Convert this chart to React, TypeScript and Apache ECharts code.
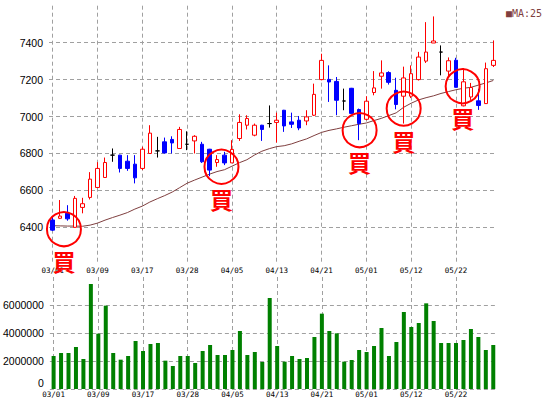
import React, { useEffect, useRef } from 'react';
import * as echarts from 'echarts';

const dates = [
  '03/01', '03/02', '03/03', '03/06', '03/07', '03/08',
  '03/09', '03/10', '03/13', '03/14', '03/15', '03/16',
  '03/17', '03/20', '03/22', '03/23', '03/24', '03/27',
  '03/28', '03/29', '03/30', '03/31', '04/03', '04/04',
  '04/05', '04/06', '04/07', '04/10', '04/11', '04/12',
  '04/13', '04/14', '04/17', '04/18', '04/19', '04/20',
  '04/21', '04/24', '04/25', '04/26', '04/27', '04/28',
  '05/01', '05/02', '05/08', '05/09', '05/10', '05/11',
  '05/12', '05/15', '05/16', '05/17', '05/18', '05/19',
  '05/22', '05/23', '05/24', '05/25', '05/26', '05/29',
];

const opens = [
  6440, 6449, 6476, 6400, 6508, 6562, 6616, 6670, 6791, 6791,
  6758, 6742, 6719, 6800, 6814, 6863, 6876, 6827, 6850, 6868,
  6850, 6823, 6751, 6791, 6749, 6881, 6953, 6899, 6953, 6962,
  6968, 7034, 6971, 6980, 6976, 7007, 7200, 7201, 7190, 7084,
  7153, 7038, 6985, 7130, 7218, 7238, 7142, 7110, 7110, 7200,
  7300, 7398, 7349, 7246, 7305, 7058, 7106, 7085, 7070, 7277,
];
const closes = [
  6385, 6461, 6446, 6557, 6528, 6661, 6719, 6751, 6791, 6719,
  6719, 6668, 6823, 6910, 6814, 6803, 6857, 6930, 6850, 6893,
  6755, 6710, 6767, 6749, 6822, 6968, 6989, 6953, 6930, 6962,
  6980, 6949, 6958, 6938, 6998, 7120, 7304, 7187, 7088, 7084,
  7017, 6962, 7083, 7155, 7236, 7185, 7065, 7209, 7232, 7322,
  7349, 7409, 7349, 7302, 7158, 7188, 7157, 7060, 7259, 7304,
];
const lows = [
  6380, 6445, 6436, 6398, 6476, 6551, 6616, 6670, 6755, 6697,
  6706, 6638, 6710, 6800, 6778, 6800, 6800, 6827, 6818, 6800,
  6749, 6677, 6728, 6737, 6749, 6868, 6930, 6893, 6868, 6940,
  6859, 6917, 6938, 6926, 6953, 7003, 7196, 7079, 7007, 7034,
  7017, 6872, 6980, 7115, 7151, 7173, 7039, 6962, 7100, 7195,
  7290, 7398, 7223, 7218, 7158, 7055, 7090, 7036, 7068, 7268,
];
const highs = [
  6455, 6548, 6520, 6570, 6560, 6699, 6753, 6778, 6827, 6793,
  6791, 6791, 6836, 6953, 6890, 6886, 6893, 6944, 6920, 6899,
  6863, 6825, 6791, 6809, 6872, 7012, 7007, 6962, 6955, 7060,
  7021, 7036, 7021, 7003, 7034, 7178, 7340, 7277, 7214, 7151,
  7155, 7043, 7110, 7246, 7304, 7245, 7210, 7270, 7277, 7350,
  7511, 7542, 7385, 7320, 7318, 7262, 7182, 7150, 7292, 7412,
];

const volumes = [
  2357000, 2571000, 2571000, 3000000, 2143000, 7500000, 3952000, 5952000, 2571000, 2095000,
  2357000, 3429000, 2714000, 3214000, 3286000, 2024000, 1643000, 2357000, 2357000, 1857000,
  2714000, 3143000, 2429000, 2429000, 2786000, 4143000, 2429000, 2643000, 1929000, 6500000,
  3071000, 1952000, 2357000, 2143000, 2214000, 3714000, 5381000, 4143000, 3976000, 1952000,
  2071000, 2786000, 2643000, 3071000, 4357000, 2357000, 3357000, 5500000, 4429000, 4714000,
  6119000, 4857000, 3286000, 3286000, 3286000, 3500000, 4286000, 3714000, 2786000, 3143000,
];

const ma25 = [
  6409, 6408, 6407, 6407, 6406, 6412, 6423, 6439, 6453, 6466,
  6480, 6499, 6515, 6537, 6555, 6572, 6591, 6615, 6639, 6656,
  6672, 6688, 6702, 6712, 6731, 6750, 6766, 6791, 6812, 6826,
  6837, 6842, 6852, 6866, 6879, 6897, 6914, 6925, 6933, 6942,
  6950, 6958, 6965, 6978, 6990, 7005, 7020, 7050, 7072, 7090,
  7102, 7112, 7125, 7135, 7145, 7153, 7158, 7170, 7182, 7195,
];

const buyIndex = [1.5, 22.6, 41.1, 47, 54.9];
const buyPrice = [6390, 6728, 6926, 7043, 7164];
const buyLabel = '買';
const maName = 'MA:25';

const GRID_LINE = { color: '#a0a0a0', width: 1, type: [4, 3] as any };
const Y_FONT = { fontFamily: 'Liberation Sans', fontSize: 10.5, color: '#000' };
const X_FONT = { fontFamily: 'DejaVu Sans Mono', fontSize: 7.5, color: '#000' };

export default function App() {
  const ref = useRef<HTMLDivElement>(null);
  useEffect(() => {
    if (!ref.current) return;
    const chart = echarts.init(ref.current, undefined, { renderer: 'svg' });
    const candleData = dates.map((_, i) => [opens[i], closes[i], lows[i], highs[i]]);
    const buyData = buyIndex.map((x, i) => [x, buyPrice[i]]);
    const catAxis = (gridIndex: number, margin: number) => ({
      type: 'category',
      gridIndex,
      data: dates,
      boundaryGap: true,
      axisLine: { show: false },
      axisTick: { show: false, alignWithLabel: true, interval: 5 },
      axisLabel: { interval: 5, margin, ...X_FONT },
      splitLine: { show: true, interval: 5, alignWithLabel: true, lineStyle: GRID_LINE },
    });
    chart.setOption({
      animation: false,
      backgroundColor: '#fff',
      grid: [
        { left: 49, width: 448, top: 5.7, height: 258.6 },
        { left: 49, width: 448, top: 277, height: 112 },
      ],
      xAxis: [
        catAxis(0, 2),
        catAxis(1, 1),
        {
          type: 'value', gridIndex: 0, min: -0.5, max: 59.5, show: false,
          splitLine: { show: false },
        },
      ],
      yAxis: [
        {
          type: 'value', gridIndex: 0, min: 6200, max: 7600, interval: 200,
          axisLine: { show: false }, axisTick: { show: false },
          axisLabel: {
            showMinLabel: false, showMaxLabel: false, margin: 6, ...Y_FONT,
            formatter: (v: number) => String(v),
          },
          splitLine: { show: true, showMinLine: false, showMaxLine: false, lineStyle: GRID_LINE },
        },
        {
          type: 'value', gridIndex: 1, min: 0, max: 8000000, interval: 2000000,
          axisLine: { show: false }, axisTick: { show: false },
          axisLabel: {
            showMaxLabel: false, margin: 6, ...Y_FONT,
            formatter: (v: number) => (v === 0 ? '{z|0}' : String(v)),
            rich: { z: { ...Y_FONT, padding: [0, 0, 12, 0] } },
          },
          splitLine: { show: true, showMaxLine: false, lineStyle: GRID_LINE },
        },
      ],
      graphic: [
        {
          type: 'text', right: 5, top: 8,
          style: { text: '■' + maName, font: '10px "DejaVu Sans Mono"', fill: '#7f3f3f' },
        },
      ],
      series: [
        {
          type: 'line', name: maName, xAxisIndex: 0, yAxisIndex: 0, data: ma25,
          symbol: 'none', lineStyle: { color: '#7f3f3f', width: 1 }, z: 2,
        },
        {
          type: 'candlestick', xAxisIndex: 0, yAxisIndex: 0, data: candleData,
          barWidth: 4,
          itemStyle: {
            color: '#ffffff', borderColor: '#ff0000',
            color0: '#0000ff', borderColor0: '#0000ff',
            borderColorDoji: '#000000', borderWidth: 1,
          },
          z: 3,
        },
        {
          type: 'scatter', xAxisIndex: 2, yAxisIndex: 0, data: buyData,
          symbol: 'circle', symbolSize: 34, clip: false,
          itemStyle: { color: 'none', borderColor: '#ff0000', borderWidth: 2, opacity: 1 },
          label: {
            show: true, position: 'bottom', distance: 1, formatter: buyLabel,
            color: '#ff0000', fontSize: 23, fontWeight: 'bold', fontFamily: 'Noto Sans CJK JP',
          },
          z: 5,
        },
        {
          type: 'bar', xAxisIndex: 1, yAxisIndex: 1, data: volumes,
          barWidth: 4, itemStyle: { color: '#008000' },
        },
      ],
    });
    return () => chart.dispose();
  }, []);
  return (
    <div
      ref={ref}
      style={{ position: 'fixed', left: 0, top: 0, width: 547, height: 399, background: '#fff' }}
    />
  );
}
